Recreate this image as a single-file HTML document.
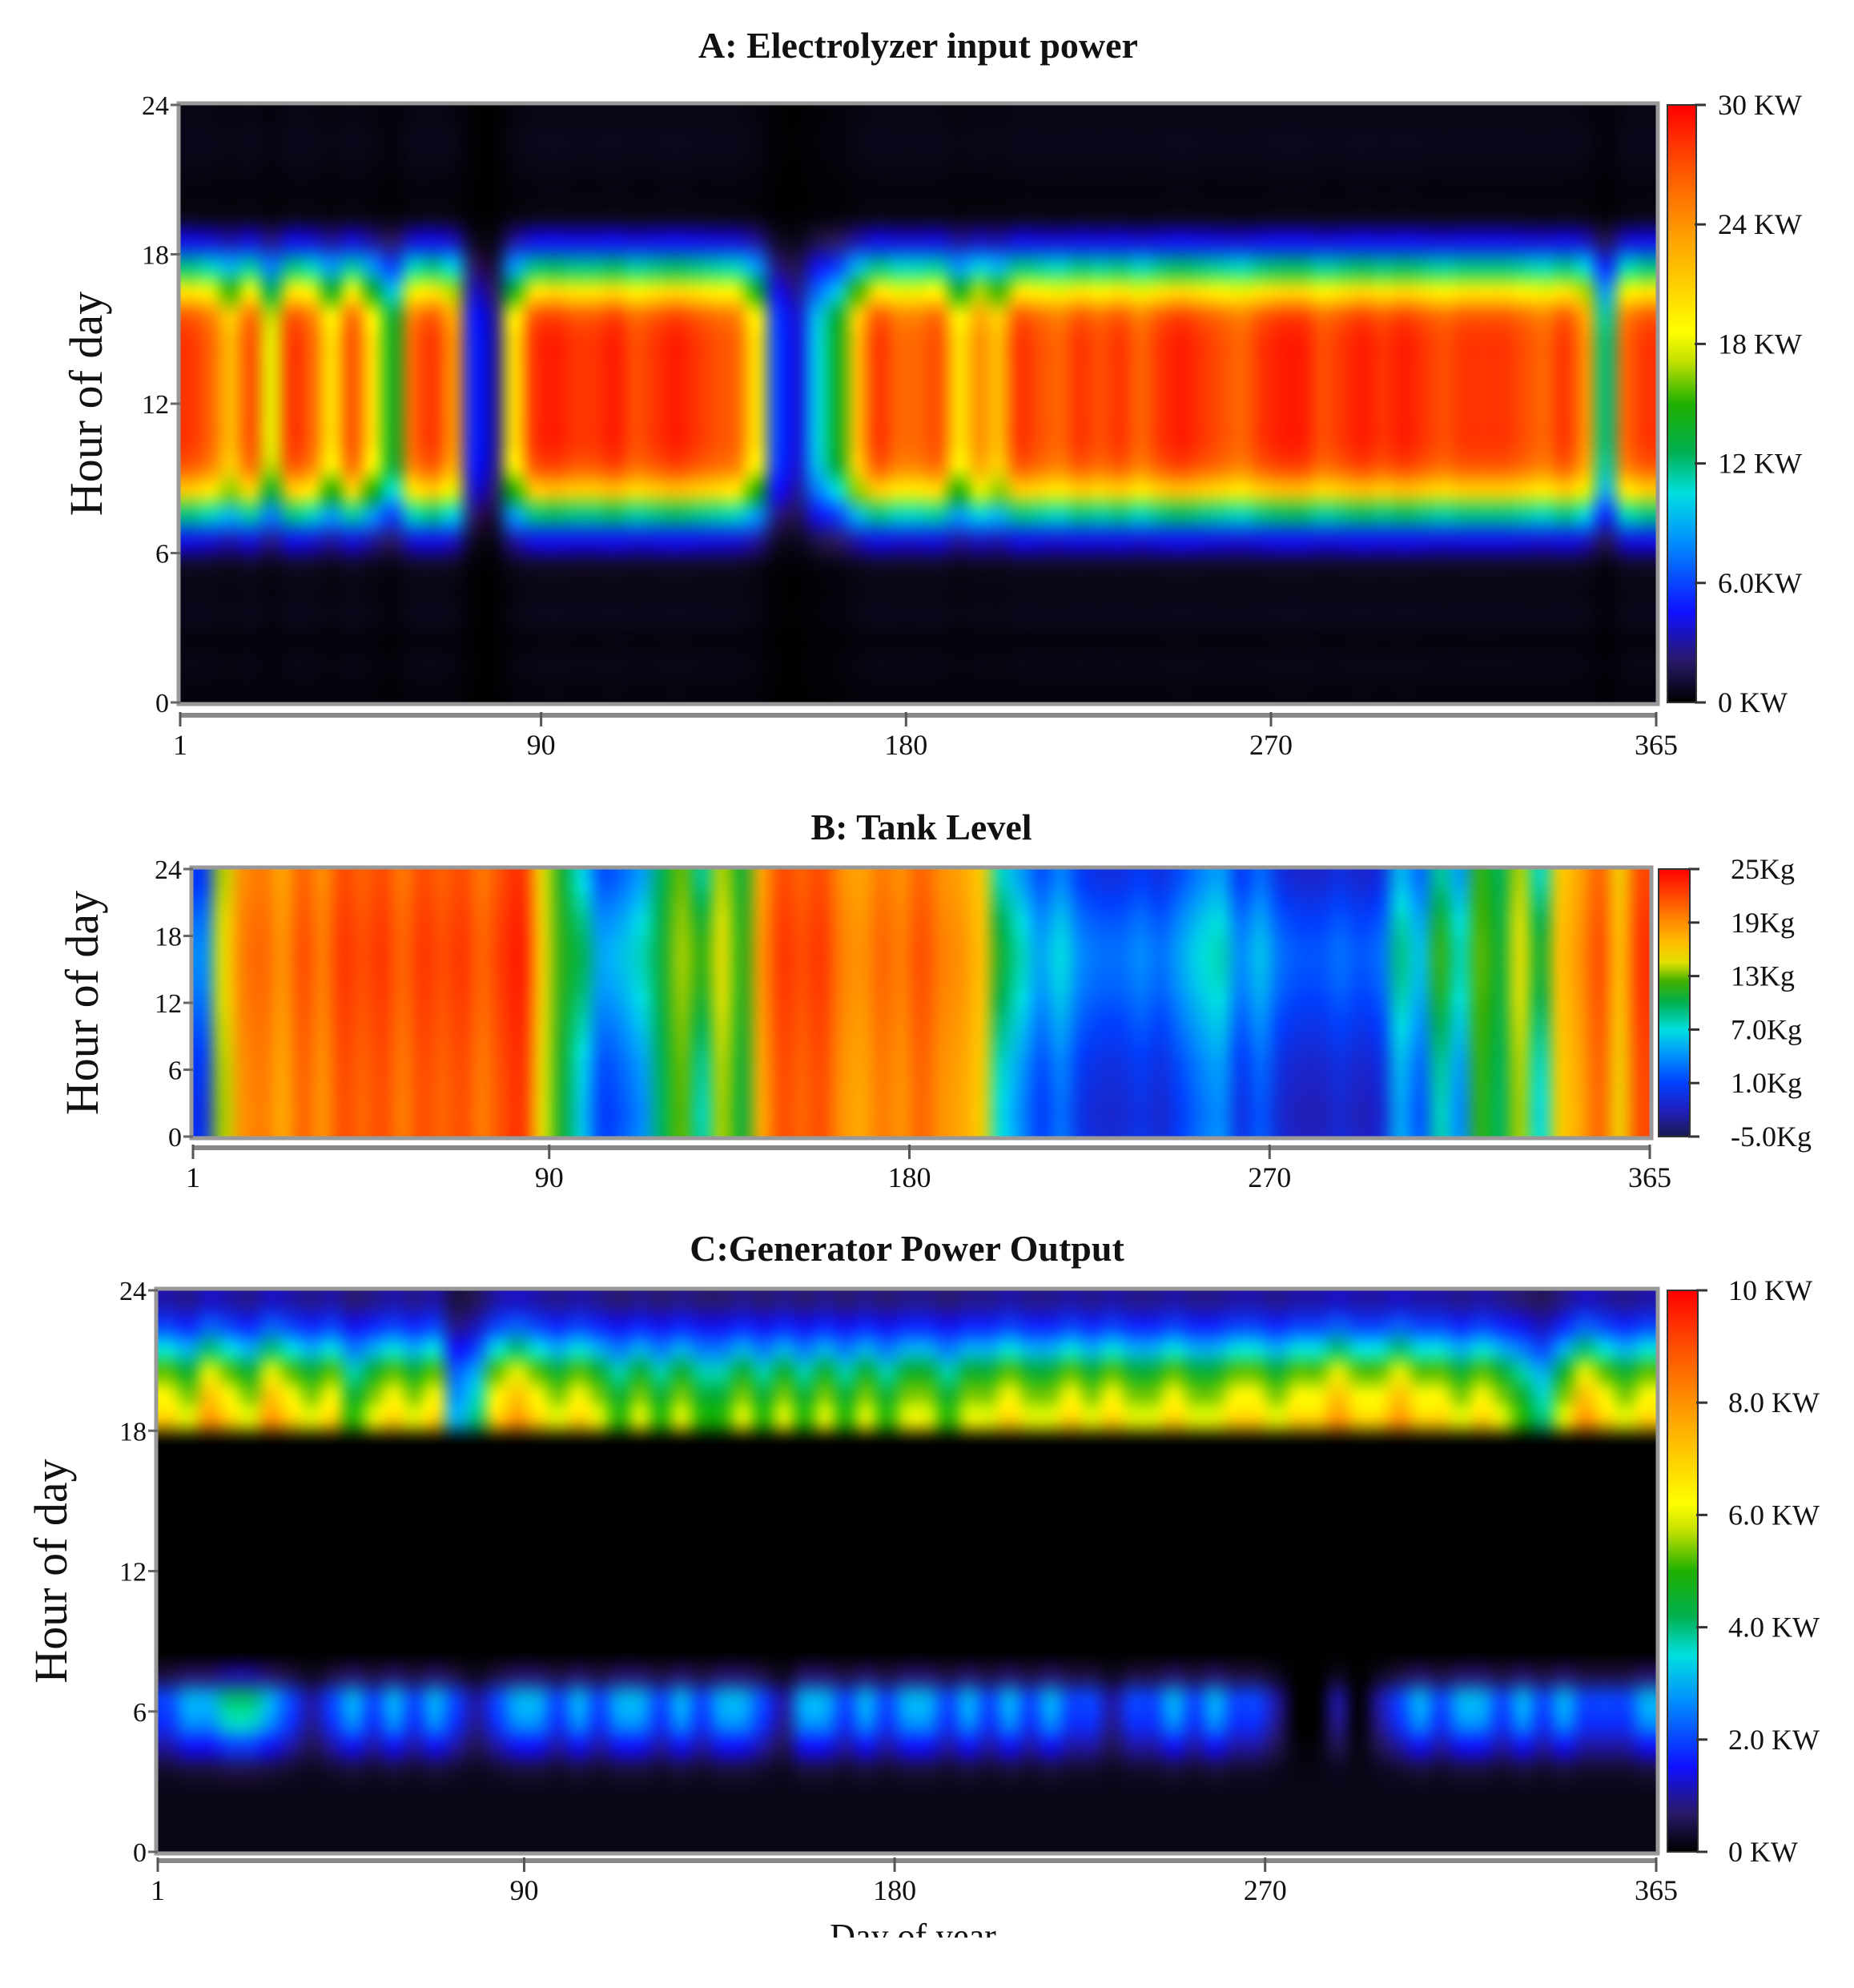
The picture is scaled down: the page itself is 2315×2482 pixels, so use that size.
<!DOCTYPE html>
<html><head><meta charset="utf-8">
<style>
html,body{margin:0;padding:0;background:#fff;}
#root{position:relative;width:2315px;height:2482px;overflow:hidden;background:#fff;}
canvas{position:absolute;}
svg{position:absolute;left:0;top:0;}
text{font-family:"Liberation Serif",serif;fill:#111;}
</style></head>
<body>
<div id="root">
<canvas id="cA"></canvas>
<canvas id="cB"></canvas>
<canvas id="cC"></canvas>
<canvas id="kA"></canvas>
<canvas id="kB"></canvas>
<canvas id="kC"></canvas>
<svg id="ov" width="2315" height="2482"></svg>
</div>
<script>
// ---- data (5-day blocks, days 1..365) ----
const xTicks = [1, 90, 180, 270, 365];
const yTicks = [0, 6, 12, 18, 24];
const aTickLabels = ["0 KW","6.0KW","12 KW","18 KW","24 KW","30 KW"];
const bTickLabels = ["-5.0Kg","1.0Kg","7.0Kg","13Kg","19Kg","25Kg"];
const cTickLabels = ["0 KW","2.0 KW","4.0 KW","6.0 KW","8.0 KW","10 KW"];
const aPeak = [28,26,22,27,18,28,26,20,27,20,14,26,28,24,5,3,20,28,29,28,28,29,27,28,29,28,27,26,20,6,4,10,14,22,28,26,26,27,20,24,22,28,27,26,28,27,28,26,28,29,28,27,26,28,29,29,27,28,29,28,29,28,27,28,28,28,27,26,28,24,12,26,28];
const aHourProfile = [0.01,0.015,0.01,0.02,0.015,0.03,0.15,0.42,0.75,0.95,1,1,1,1,1,0.95,0.7,0.42,0.15,0.02,0.01,0.015,0.02,0.015];
const bLevel = [1,14,19,20,18,21,19,22,21,22,20,22,21,22,20,22,23,15,11,7,2,3,5,10,13,9,14,11,18,22,21,22,19,18,20,19,21,19,18,16,8,5,2,4,1,0,0,1,0,2,4,5,1,3,0,-1,-1,0,-1,0,6,3,9,5,12,10,14,8,16,18,21,16,22];
const bHourShift = [-0.5,-0.6,-0.6,-0.5,-0.4,-0.3,-0.2,0,0.2,0.4,0.6,0.8,1,1.2,1.3,1.4,1.4,1.3,1.1,0.9,0.6,0.3,0,-0.2];
const cEvening = [7,6,8,7,6,8,7,6,7,5,6,7,6,7,3,4,7,8,7,6,7,6,5,6,5,6,5,5,6,5,6,5,6,5,6,5,6,6,5,6,6,7,6,6,7,6,7,6,6,7,6,6,7,7,6,7,7,8,7,7,8,7,7,6,7,6,5,4,6,8,7,6,7];
const cMorning = [2,3,3,4,4,3,2,1,2,3,2,3,2,3,2,1,2,3,3,2,3,2,3,3,2,3,2,3,3,2,1,3,3,2,3,2,3,3,2,3,2,3,2,3,2,2,1,2,2,3,2,3,2,2,1,0,0,1,0,1,2,3,2,3,3,2,3,2,3,2,2,2,3];
const cEveProfile = [0,0,0,0,0,0,0,0,0,0,0,0,0,0,0,0,0,0,1,0.9,0.75,0.5,0.28,0.15];
const cMornProfile = [0,0,0,0.1,0.45,0.9,1,0.25,0,0,0,0,0,0,0,0,0,0,0,0,0,0,0,0];
const cBase = [0.15,0.15,0.15,0.12,0.1,0,0,0,0,0,0,0,0,0,0,0,0,0,0,0,0,0,0,0];

const jetBlack = [[0,'#000000'],[0.07,'#2a1a6a'],[0.15,'#1010ff'],[0.27,'#0090ff'],[0.35,'#00e0e0'],[0.42,'#00b050'],[0.5,'#20b000'],[0.57,'#c0e000'],[0.62,'#ffff00'],[0.78,'#ffa000'],[0.9,'#ff5000'],[1,'#ff0000']];
const jetNavy = [[0,'#1a1a50'],[0.1,'#2020c0'],[0.2,'#0040ff'],[0.3,'#0090ff'],[0.4,'#00e0e0'],[0.5,'#00b050'],[0.58,'#40b000'],[0.65,'#e0e000'],[0.72,'#ffc000'],[0.82,'#ff8000'],[1,'#ff0000']];

function hex(c){return [parseInt(c.slice(1,3),16),parseInt(c.slice(3,5),16),parseInt(c.slice(5,7),16)];}
function cmap(stops,t){
  t=Math.max(0,Math.min(1,t));
  for(let i=1;i<stops.length;i++){
    if(t<=stops[i][0]){
      const a=hex(stops[i-1][1]),b=hex(stops[i][1]);
      const f=(t-stops[i-1][0])/(stops[i][0]-stops[i-1][0]);
      return [0,1,2].map(k=>Math.round(a[k]+(b[k]-a[k])*f));
    }
  }
  return hex(stops[stops.length-1][1]);
}

const panels = {
  A:{x:225,y:131,w:1843,h:746,cx:2082,cw:36,lx:2145,axisY:893,labY:942,stops:jetBlack,vmin:0,vmax:30,labels:aTickLabels,
     title:"A: Electrolyzer input power",titleY:72,ylabX:107,
     val:(b,h)=>aPeak[b]*aHourProfile[h]},
  B:{x:241,y:1085,w:1819,h:334,cx:2071,cw:39,lx:2161,axisY:1433,labY:1482,stops:jetNavy,vmin:-5,vmax:25,labels:bTickLabels,
     title:"B: Tank Level",titleY:1048,ylabX:102,
     val:(b,h)=>bLevel[b]+(bLevel[b]<10?bHourShift[h]*2:bHourShift[h]*0.5)},
  C:{x:197,y:1611,w:1871,h:701,cx:2082,cw:38,lx:2158,axisY:2323,labY:2372,stops:jetBlack,vmin:0,vmax:10,labels:cTickLabels,
     title:"C:Generator Power Output",titleY:1574,ylabX:63,
     val:(b,h)=>cEvening[b]*cEveProfile[h]+cMorning[b]*cMornProfile[h]+cBase[h]}
};

const NS="http://www.w3.org/2000/svg";
const ov=document.getElementById('ov');
function sv(tag,attrs,txt){const e=document.createElementNS(NS,tag);for(const k in attrs)e.setAttribute(k,attrs[k]);if(txt!==undefined)e.textContent=txt;ov.appendChild(e);return e;}

for(const key of ['A','B','C']){
  const p=panels[key];
  const nb=aPeak.length, nh=24;
  const off=document.createElement('canvas');off.width=nb;off.height=nh;
  const octx=off.getContext('2d');const img=octx.createImageData(nb,nh);
  for(let b=0;b<nb;b++)for(let h=0;h<nh;h++){
    const v=p.val(b,h);const c=cmap(p.stops,(v-p.vmin)/(p.vmax-p.vmin));
    const row=nh-1-h;const i=(row*nb+b)*4;
    img.data[i]=c[0];img.data[i+1]=c[1];img.data[i+2]=c[2];img.data[i+3]=255;
  }
  octx.putImageData(img,0,0);
  const cv=document.getElementById('c'+key);
  cv.width=p.w;cv.height=p.h;cv.style.left=p.x+'px';cv.style.top=p.y+'px';
  const ctx=cv.getContext('2d');ctx.imageSmoothingEnabled=true;ctx.imageSmoothingQuality='high';
  ctx.drawImage(off,0,0,p.w,p.h);
  const kc=document.getElementById('k'+key);
  kc.width=p.cw;kc.height=p.h;kc.style.left=p.cx+'px';kc.style.top=p.y+'px';
  const kx=kc.getContext('2d');const g=kx.createLinearGradient(0,p.h,0,0);
  p.stops.forEach(s=>g.addColorStop(s[0],s[1]));kx.fillStyle=g;kx.fillRect(0,0,p.cw,p.h);
  sv('rect',{x:p.cx,y:p.y,width:p.cw,height:p.h,fill:'none',stroke:'#333','stroke-width':2,});
  p.labels.forEach((l,i)=>{
    const yy=p.y+p.h-i*p.h/(p.labels.length-1);
    sv('line',{x1:p.cx+p.cw-2,x2:p.cx+p.cw+12,y1:yy,y2:yy,stroke:'#333','stroke-width':3});
    sv('text',{x:p.lx,y:yy+12,'font-size':36,},l);
  });
  sv('rect',{x:p.x-2,y:p.y-2,width:p.w+4,height:p.h+4,fill:'none',stroke:'#999','stroke-width':5,});
  yTicks.forEach(t=>{
    const yy=p.y+p.h-t/24*p.h;
    sv('line',{x1:p.x-12,x2:p.x,y1:yy,y2:yy,stroke:'#666','stroke-width':3});
    sv('text',{x:p.x-14,y:yy+12,'font-size':34,'text-anchor':'end',},String(t));
  });
  const xs=d=>p.x+(d-1)/364*p.w;
  sv('line',{x1:xs(1),x2:xs(365),y1:p.axisY,y2:p.axisY,stroke:'#888','stroke-width':6,});
  xTicks.forEach(d=>{
    sv('line',{x1:xs(d),x2:xs(d),y1:p.axisY-4,y2:p.axisY+14,stroke:'#555','stroke-width':3});
    sv('text',{x:xs(d),y:p.labY,'font-size':36,'text-anchor':'middle',},String(d));
  });
  sv('text',{x:(p.x+p.w/2),y:p.titleY,'font-size':46,'font-weight':'bold','text-anchor':'middle',},p.title);
  const cy=p.y+p.h/2;
  sv('text',{x:p.ylabX,y:cy,'font-size':58,'text-anchor':'middle',transform:`rotate(-90 ${p.ylabX} ${cy})`,dy:'20',},'Hour of day');
}
sv('text',{x:1140,y:2432,'font-size':44,'text-anchor':'middle',},'Day of year');
sv('rect',{x:900,y:2419,width:500,height:60,fill:'#fff'});
</script>
</body></html>
